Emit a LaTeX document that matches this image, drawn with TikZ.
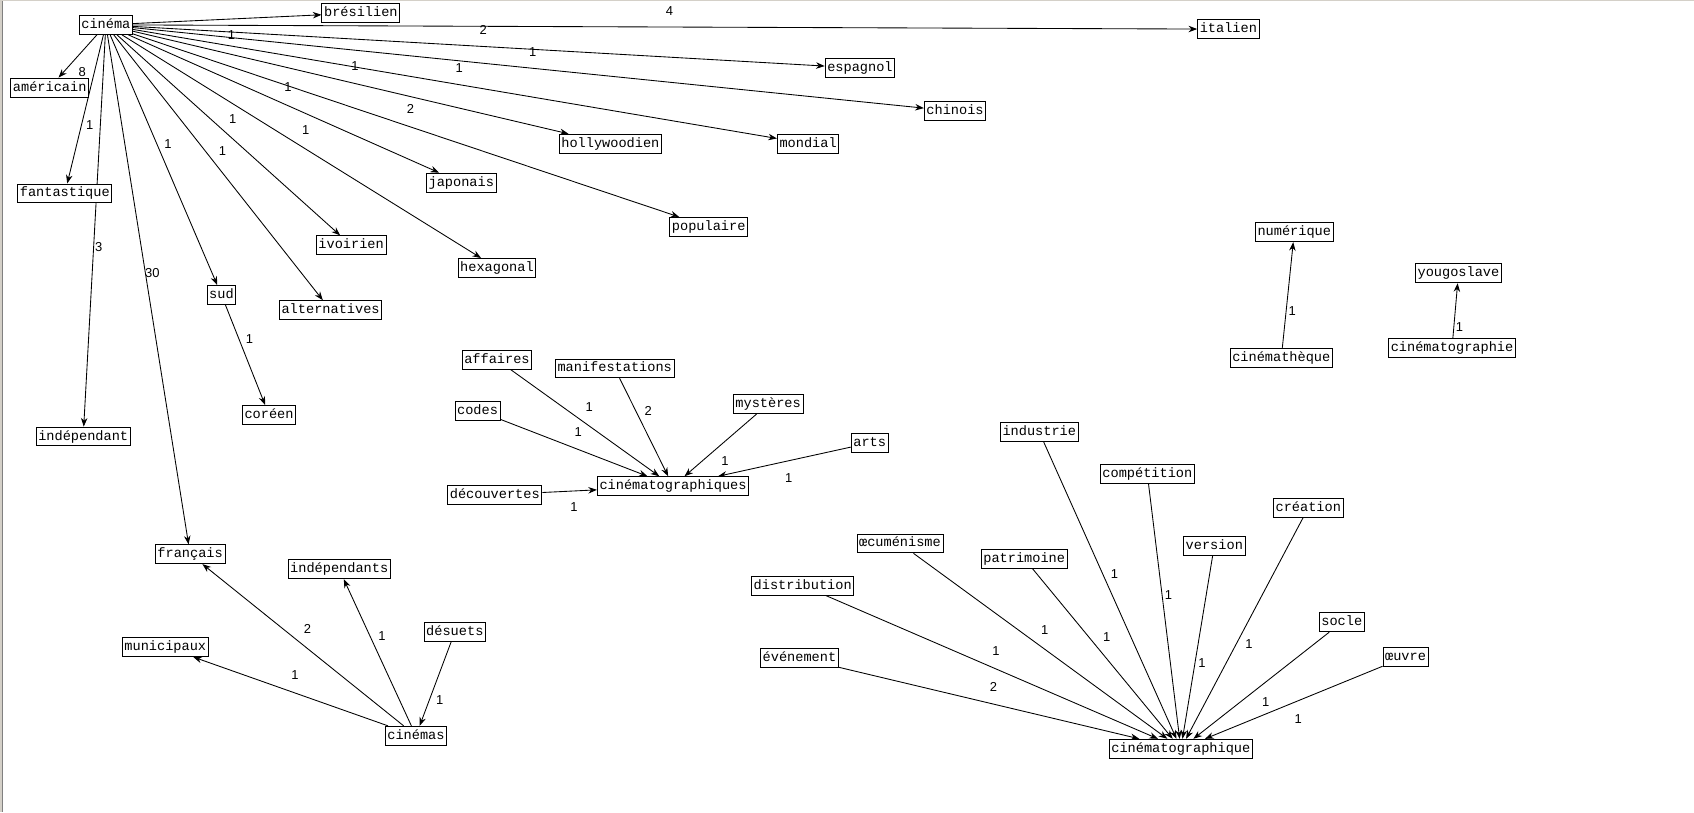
\documentclass[tikz,border=0pt]{standalone}
\usepackage{fontspec}
\setmonofont{Liberation Mono}
\setsansfont{Liberation Sans}
\usetikzlibrary{arrows.meta, backgrounds}
\definecolor{paneedge}{RGB}{212,208,200}
\definecolor{panedark}{RGB}{128,128,128}

\begin{document}
\begin{tikzpicture}[x=1pt, y=-1pt, >={Stealth[length=8pt,width=6pt]},
    word/.style={draw, fill=white, line width=0.8pt, inner xsep=2pt, inner ysep=0pt,
      minimum height=17.5pt, text height=9.2pt, text depth=2.6pt,
      font=\ttfamily\fontsize{12.6}{14}\selectfont},
    weight/.style={font=\sffamily\fontsize{12}{14}\selectfont, inner sep=0pt, xshift=4pt},
    wup/.style={weight, yshift=15pt},
    wdown/.style={weight, yshift=-15pt}]
  \useasboundingbox (0,0) rectangle (1568,752);
  \fill[paneedge] (0,0) rectangle (1568,1);
  \fill[paneedge] (0,0) rectangle (2,752);
  \fill[panedark] (2,1) rectangle (3,752);

  % cinéma and its adjectives
  \node[word] (cinema) at (98,23) {cinéma};
  \node[word] (bresilien) at (334,12) {brésilien};
  \node[word] (italien) at (1137,27) {italien};
  \node[word] (americain) at (46,81) {américain};
  \node[word] (espagnol) at (796,63) {espagnol};
  \node[word] (chinois) at (884,103) {chinois};
  \node[word] (hollywoodien) at (565,133) {hollywoodien};
  \node[word] (mondial) at (748,133) {mondial};
  \node[word] (fantastique) at (60,179) {fantastique};
  \node[word] (japonais) at (427,169) {japonais};
  \node[word] (populaire) at (656,210) {populaire};
  \node[word] (ivoirien) at (325,227) {ivoirien};
  \node[word] (hexagonal) at (460,248) {hexagonal};
  \node[word] (sud) at (205,273) {sud};
  \node[word] (alternatives) at (306,287) {alternatives};
  \node[word] (coreen) at (249,384) {coréen};
  \node[word] (independant) at (77,404) {indépendant};
  \node[word] (francais) at (176,513) {français};

  % cinémas
  \node[word] (independants) at (314,527) {indépendants};
  \node[word] (desuets) at (421,585) {désuets};
  \node[word] (municipaux) at (153,599) {municipaux};
  \node[word] (cinemas) at (385,681) {cinémas};

  % cinématographiques
  \node[word] (affaires) at (460,333) {affaires};
  \node[word] (manifestations) at (569,341) {manifestations};
  \node[word] (codes) at (442,380) {codes};
  \node[word] (mysteres) at (711,374) {mystères};
  \node[word] (arts) at (805,410) {arts};
  \node[word] (decouvertes) at (458,458) {découvertes};
  \node[word] (cinematographiques) at (623,450) {cinématographiques};

  % cinématographique
  \node[word] (industrie) at (962,400) {industrie};
  \node[word] (competition) at (1062,439) {compétition};
  \node[word] (creation) at (1211,470) {création};
  \node[word] (version) at (1124,505) {version};
  \node[word] (oecumenisme) at (833,503) {œcuménisme};
  \node[word] (patrimoine) at (948,517) {patrimoine};
  \node[word] (distribution) at (743,542) {distribution};
  \node[word] (socle) at (1242,576) {socle};
  \node[word] (evenement) at (740,609) {événement};
  \node[word] (oeuvre) at (1301,608) {œuvre};
  \node[word] (cinematographique) at (1093,693) {cinématographique};

  % right side
  \node[word] (numerique) at (1198,215) {numérique};
  \node[word] (cinematheque) at (1186,331) {cinémathèque};
  \node[word] (yougoslave) at (1350,253) {yougoslave};
  \node[word] (cinematographie) at (1344,322) {cinématographie};

  \begin{scope}[on background layer]
  \path[->, line width=0.8pt]
    (cinema) edge node[wdown] {1} (bresilien)
             edge node[wup] {4} (italien)
             edge node[wup] {2} (espagnol)
             edge node[wup] {1} (chinois)
             edge node[wup] {1} (hollywoodien)
             edge node[wup] {1} (mondial)
             edge node[wup] {1} (japonais)
             edge node[wup] {2} (populaire)
             edge node[wup] {1} (ivoirien)
             edge node[wup] {1} (hexagonal)
             edge node[wup] {1} (sud)
             edge node[wup] {1} (alternatives)
             edge node[wdown] {8} (americain)
             edge node[wdown] {1} (fantastique)
             edge node[wdown] {3} (independant)
             edge node[wup] {30} (francais)
    (sud) edge node[wup] {1} (coreen)
    (cinemas) edge node[wup] {2} (francais)
              edge node[wup] {1} (independants)
              edge node[wup] {1} (municipaux)
    (desuets) edge node[wdown] {1} (cinemas)
    (affaires) edge node[wup] {1} (cinematographiques)
    (manifestations) edge node[wup] {2} (cinematographiques)
    (codes) edge node[wup] {1} (cinematographiques)
    (mysteres) edge node[wdown] {1} (cinematographiques)
    (arts) edge node[wdown] {1} (cinematographiques)
    (decouvertes) edge node[wdown] {1} (cinematographiques)
    (industrie) edge node[wup] {1} (cinematographique)
    (competition) edge node[wup] {1} (cinematographique)
    (creation) edge node[wdown] {1} (cinematographique)
    (version) edge node[wdown] {1} (cinematographique)
    (oecumenisme) edge node[wup] {1} (cinematographique)
    (patrimoine) edge node[wup] {1} (cinematographique)
    (distribution) edge node[wup] {1} (cinematographique)
    (socle) edge node[wdown] {1} (cinematographique)
    (evenement) edge node[wup] {2} (cinematographique)
    (oeuvre) edge node[wdown] {1} (cinematographique)
    (cinematheque) edge node[wdown] {1} (numerique)
    (cinematographie) edge node[wdown] {1} (yougoslave);
  \end{scope}
\end{tikzpicture}
\end{document}
